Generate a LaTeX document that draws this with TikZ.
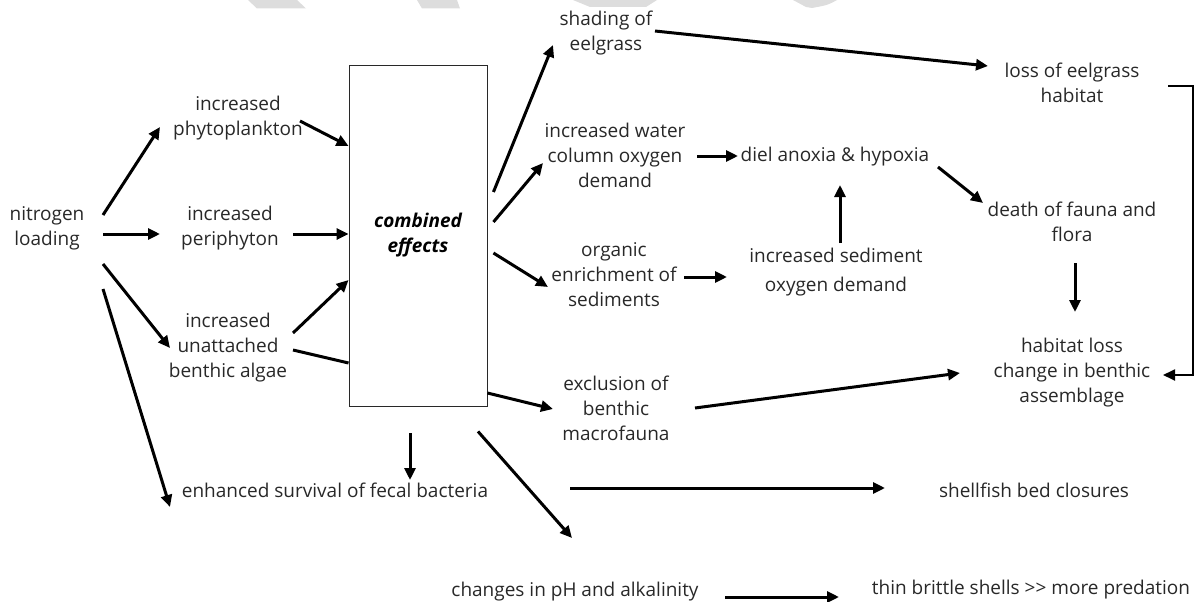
\documentclass[tikz,border=0pt]{standalone}
\usepackage{fontspec}
\setmainfont{Open Sans}
\usetikzlibrary{arrows.meta}
\definecolor{inkgray}{RGB}{40, 40, 40}
\definecolor{watermark}{RGB}{221, 221, 221}

\begin{document}
\begin{tikzpicture}[
  x=1pt, y=-1pt,
  effect/.style={align=center, inner sep=0pt, text=inkgray,
                 font=\fontsize{19pt}{25pt}\selectfont},
  bigbox/.style={draw=inkgray, line width=0.9pt, minimum width=138pt,
                 minimum height=341pt, align=center, inner sep=0pt,
                 font=\fontsize{19pt}{25pt}\selectfont\bfseries\itshape},
  arrow/.style={-{Triangle[length=12pt, width=11pt]}, line width=3pt},
  plain/.style={line width=3pt}
]
  \useasboundingbox (0,0) rectangle (1195,602);

  % faint watermark at the top edge
  \fill[watermark] (248,0) -- (297,0) -- (306,8.5) -- (257,8.5) -- cycle;
  \fill[watermark] (417,0) -- (457,0) -- (460,8.5) -- (422,8.5) -- cycle;
  \fill[watermark] (573,0) -- (657,0) -- (646,7) -- (590,7) -- cycle;
  \fill[watermark] (793,0) -- (837,0) .. controls (828,5) .. (812,8) -- (806,7) -- cycle;

  % causes
  \node[effect] (nitro)   at (47, 228)  {nitrogen\\loading};
  \node[effect] (phyto)   at (238, 118) {increased\\phytoplankton};
  \node[effect] (peri)    at (230, 228) {increased\\periphyton};
  \node[effect] (unatt)   at (228, 348) {increased\\unattached\\benthic algae};
  \node[bigbox] (combo)   at (418, 235.5) {combined\\effects};

  % first order effects
  \node[effect] (shade)   at (606, 33)  {shading of\\eelgrass};
  \node[effect] (water)   at (615, 155) {increased water\\column oxygen\\demand};
  \node[effect] (organic) at (614, 275) {organic\\enrichment of\\sediments};
  \node[effect] (excl)    at (616, 408) {exclusion of\\benthic\\macrofauna};
  \node[effect] (fecal)   at (335, 490) {enhanced survival of fecal bacteria};
  \node[effect] (ph)      at (575, 592) {changes in pH and alkalinity};

  % second order effects
  \node[effect] (diel)    at (835, 157) {diel anoxia \& hypoxia};
  \node[effect, font=\fontsize{19pt}{29pt}\selectfont]
                (sedi)    at (836, 272.5) {increased sediment\\oxygen demand};
  \node[effect] (loss)    at (1072, 83)  {loss of eelgrass\\habitat};
  \node[effect] (death)   at (1072, 222) {death of fauna and\\flora};
  \node[effect] (habloss) at (1072, 373) {habitat loss\\change in benthic\\assemblage};
  \node[effect] (closure) at (1034, 490) {shellfish bed closures};
  \node[effect] (thin)    at (1031, 590) {thin brittle shells >{}> more predation};

  % nitrogen loading
  \draw[arrow] ([shift={(56,-13)}]nitro.center) -- ([shift={(-78,9)}]phyto.center);
  \draw[arrow] ([shift={(56,6)}]nitro.center)   -- ([shift={(-70,6)}]peri.center);
  \draw[arrow] ([shift={(56,36)}]nitro.center)  -- ([shift={(-58,0)}]unatt.center);
  \draw[arrow] ([shift={(56,61)}]nitro.center)  -- ([shift={(-165,17)}]fecal.center);

  % into the combined effects
  \draw[arrow] ([shift={(62,3)}]phyto.center)  -- ([shift={(0,-89.5)}]combo.west);
  \draw[arrow] ([shift={(63,6)}]peri.center)   -- ([shift={(0,-1.5)}]combo.west);
  \draw[arrow] ([shift={(65,-15)}]unatt.center) -- ([shift={(0,44.5)}]combo.west);
  \draw[plain] ([shift={(65,2)}]unatt.center)  -- ([shift={(0,127.5)}]combo.west);

  % out of the combined effects
  \draw[arrow] ([shift={(6,-43.5)}]combo.east) -- ([shift={(-53,12)}]shade.center);
  \draw[arrow] ([shift={(6,-13.5)}]combo.east) -- ([shift={(-72,8)}]water.center);
  \draw[arrow] ([shift={(6,17.5)}]combo.east)  -- ([shift={(-66,12)}]organic.center);
  \draw[arrow] ([shift={(0,157.5)}]combo.east) -- ([shift={(-63,1)}]excl.center);
  \draw[arrow] ([shift={(-8,27)}]combo.south)  -- ([shift={(75,-10)}]fecal.center);
  \draw[arrow] ([shift={(60,25)}]combo.south)  -- ([shift={(-3,-54)}]ph.center);

  % further along
  \draw[arrow] ([shift={(49,-2)}]shade.center)   -- ([shift={(-84,-17)}]loss.center);
  \draw[arrow] ([shift={(82,1)}]water.center)    -- ([shift={(-97,-1)}]diel.center);
  \draw[arrow] ([shift={(70,2)}]organic.center)  -- ([shift={(-109,4.5)}]sedi.center);
  \draw[arrow] ([shift={(4,-29.5)}]sedi.center)  -- ([shift={(5,28)}]diel.center);
  \draw[arrow] ([shift={(103,10)}]diel.center)   -- ([shift={(-89,-19)}]death.center);
  \draw[arrow] ([shift={(3,41)}]death.center)    -- ([shift={(3,-61)}]habloss.center);
  \draw[arrow] ([shift={(79,0)}]excl.center)     -- ([shift={(-112,0)}]habloss.center);
  \draw[-{Triangle[length=12pt, width=11pt]}, line width=1.8pt]
    ([shift={(96,3)}]loss.center) -- ++(25,0) |- ([shift={(91,2)}]habloss.center);
  \draw[arrow] ([shift={(235,-2)}]fecal.center)  -- ([shift={(-149,-2)}]closure.center);
  \draw[arrow] ([shift={(150,5)}]ph.center)      -- ([shift={(-192,7)}]thin.center);
\end{tikzpicture}
\end{document}
